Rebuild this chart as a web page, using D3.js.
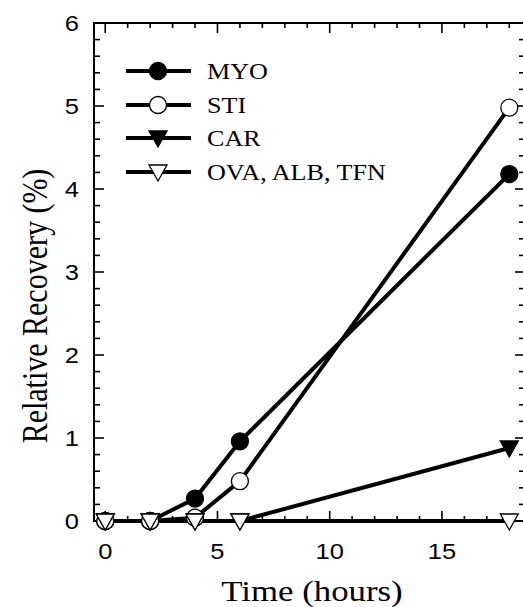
<!DOCTYPE html>
<html><head><meta charset="utf-8">
<script src="https://cdn.jsdelivr.net/npm/d3@7/dist/d3.min.js"></script>
<style>html,body{margin:0;padding:0;background:#fff;overflow:hidden}
.serif{font-family:"Liberation Serif","Times New Roman",serif}
.sans{font-family:"Liberation Sans",Arial,sans-serif}</style>
</head><body>
<svg id="c" width="523" height="607"></svg>
<script>
const times = [0, 2, 4, 6, 18];
const seriesNames = ["MYO", "STI", "CAR", "OVA, ALB, TFN"];
const myo = [0, 0, 0.27, 0.96, 4.18];
const sti = [0, 0, 0.04, 0.48, 4.98];
const car = [0, 0, 0, 0, 0.88];
const ova = [0, 0, 0, 0, 0];
const xTicks = [0, 5, 10, 15];
const yTicks = [0, 1, 2, 3, 4, 5, 6];

const svg = d3.select("#c");
const L = 94, T = 23, R = 525, B = 521;
const x = d3.scaleLinear().domain([-0.5, 18.7]).range([L, R]);
const y = d3.scaleLinear().domain([0, 6]).range([B, T]);
const K = 1.16; // horizontal stretch of the glyphs

// frame
svg.append("rect").attr("x", L).attr("y", T).attr("width", R - L).attr("height", B - T)
  .attr("fill", "none").attr("stroke", "#000").attr("stroke-width", 2);

// ticks
d3.range(0, 19, 1).forEach(v => {
  const len = v % 5 === 0 ? 10 : 5;
  svg.append("line").attr("x1", x(v)).attr("x2", x(v)).attr("y1", B).attr("y2", B - len)
    .attr("stroke", "#000").attr("stroke-width", 1.6);
  svg.append("line").attr("x1", x(v)).attr("x2", x(v)).attr("y1", T).attr("y2", T + len)
    .attr("stroke", "#000").attr("stroke-width", 1.6);
});
d3.range(0, 30, 1).forEach(i => {
  const v = i * 0.2;
  const len = i % 5 === 0 ? 10 : 6;
  svg.append("line").attr("y1", y(v)).attr("y2", y(v)).attr("x1", L).attr("x2", L + len)
    .attr("stroke", "#000").attr("stroke-width", 1.6);
  svg.append("line").attr("y1", y(v)).attr("y2", y(v)).attr("x1", R).attr("x2", R - len)
    .attr("stroke", "#000").attr("stroke-width", 1.6);
});

// tick labels
svg.append("g").selectAll("text").data(xTicks).join("text").attr("class", "sans")
  .attr("transform", d => `translate(${x(d)},559) scale(${K},1)`).attr("text-anchor", "middle")
  .attr("font-size", 22).text(d => d);
svg.append("g").selectAll("text").data(yTicks).join("text").attr("class", "sans")
  .attr("transform", d => `translate(79,${y(d) + 8}) scale(${K},1)`).attr("text-anchor", "end")
  .attr("font-size", 22).text(d => d);

// axis titles
svg.append("text").attr("class", "serif")
  .attr("transform", `translate(312,601) scale(${K},1)`).attr("text-anchor", "middle")
  .attr("font-size", 30).text("Time (hours)");
svg.append("text").attr("class", "serif")
  .attr("transform", `translate(47,306) rotate(-90) scale(1,${K})`).attr("text-anchor", "middle")
  .attr("font-size", 30).text("Relative Recovery (%)");

// markers
const triPath = "M-9,-7L9,-7L0,9Z";
function marker(g, type, cx, cy, r) {
  if (type === "fc" || type === "oc") {
    g.append("circle").attr("cx", cx).attr("cy", cy).attr("r", r)
      .attr("fill", type === "fc" ? "#000" : "#fff").attr("stroke", "#000").attr("stroke-width", 1.3);
  } else {
    g.append("path").attr("d", triPath).attr("transform", `translate(${cx},${cy})`)
      .attr("fill", type === "ft" ? "#000" : "#fff").attr("stroke", "#000").attr("stroke-width", 1.3);
  }
}

const series = [
  { name: seriesNames[0], vals: myo, type: "fc" },
  { name: seriesNames[1], vals: sti, type: "oc" },
  { name: seriesNames[2], vals: car, type: "ft" },
  { name: seriesNames[3], vals: ova, type: "ot" }
];
const line = d3.line().x(d => x(d[0])).y(d => y(d[1]));
series.forEach(s => {
  const pts = times.map((t, i) => [t, s.vals[i]]);
  svg.append("path").attr("d", line(pts)).attr("fill", "none").attr("stroke", "#000").attr("stroke-width", 4);
});
series.forEach(s => {
  const g = svg.append("g");
  times.forEach((t, i) => marker(g, s.type, x(t), y(s.vals[i]), 8.5));
});

// legend
const legY = [71, 105, 138, 172];
series.forEach((s, i) => {
  const g = svg.append("g");
  g.append("line").attr("x1", 126).attr("x2", 191).attr("y1", legY[i]).attr("y2", legY[i])
    .attr("stroke", "#000").attr("stroke-width", 4);
  marker(g, s.type, 158, legY[i], 8.5);
  g.append("text").attr("class", "serif")
    .attr("transform", `translate(207,${legY[i] + 8}) scale(${K},1)`)
    .attr("font-size", 22.5).text(s.name);
});
</script>
</body></html>
